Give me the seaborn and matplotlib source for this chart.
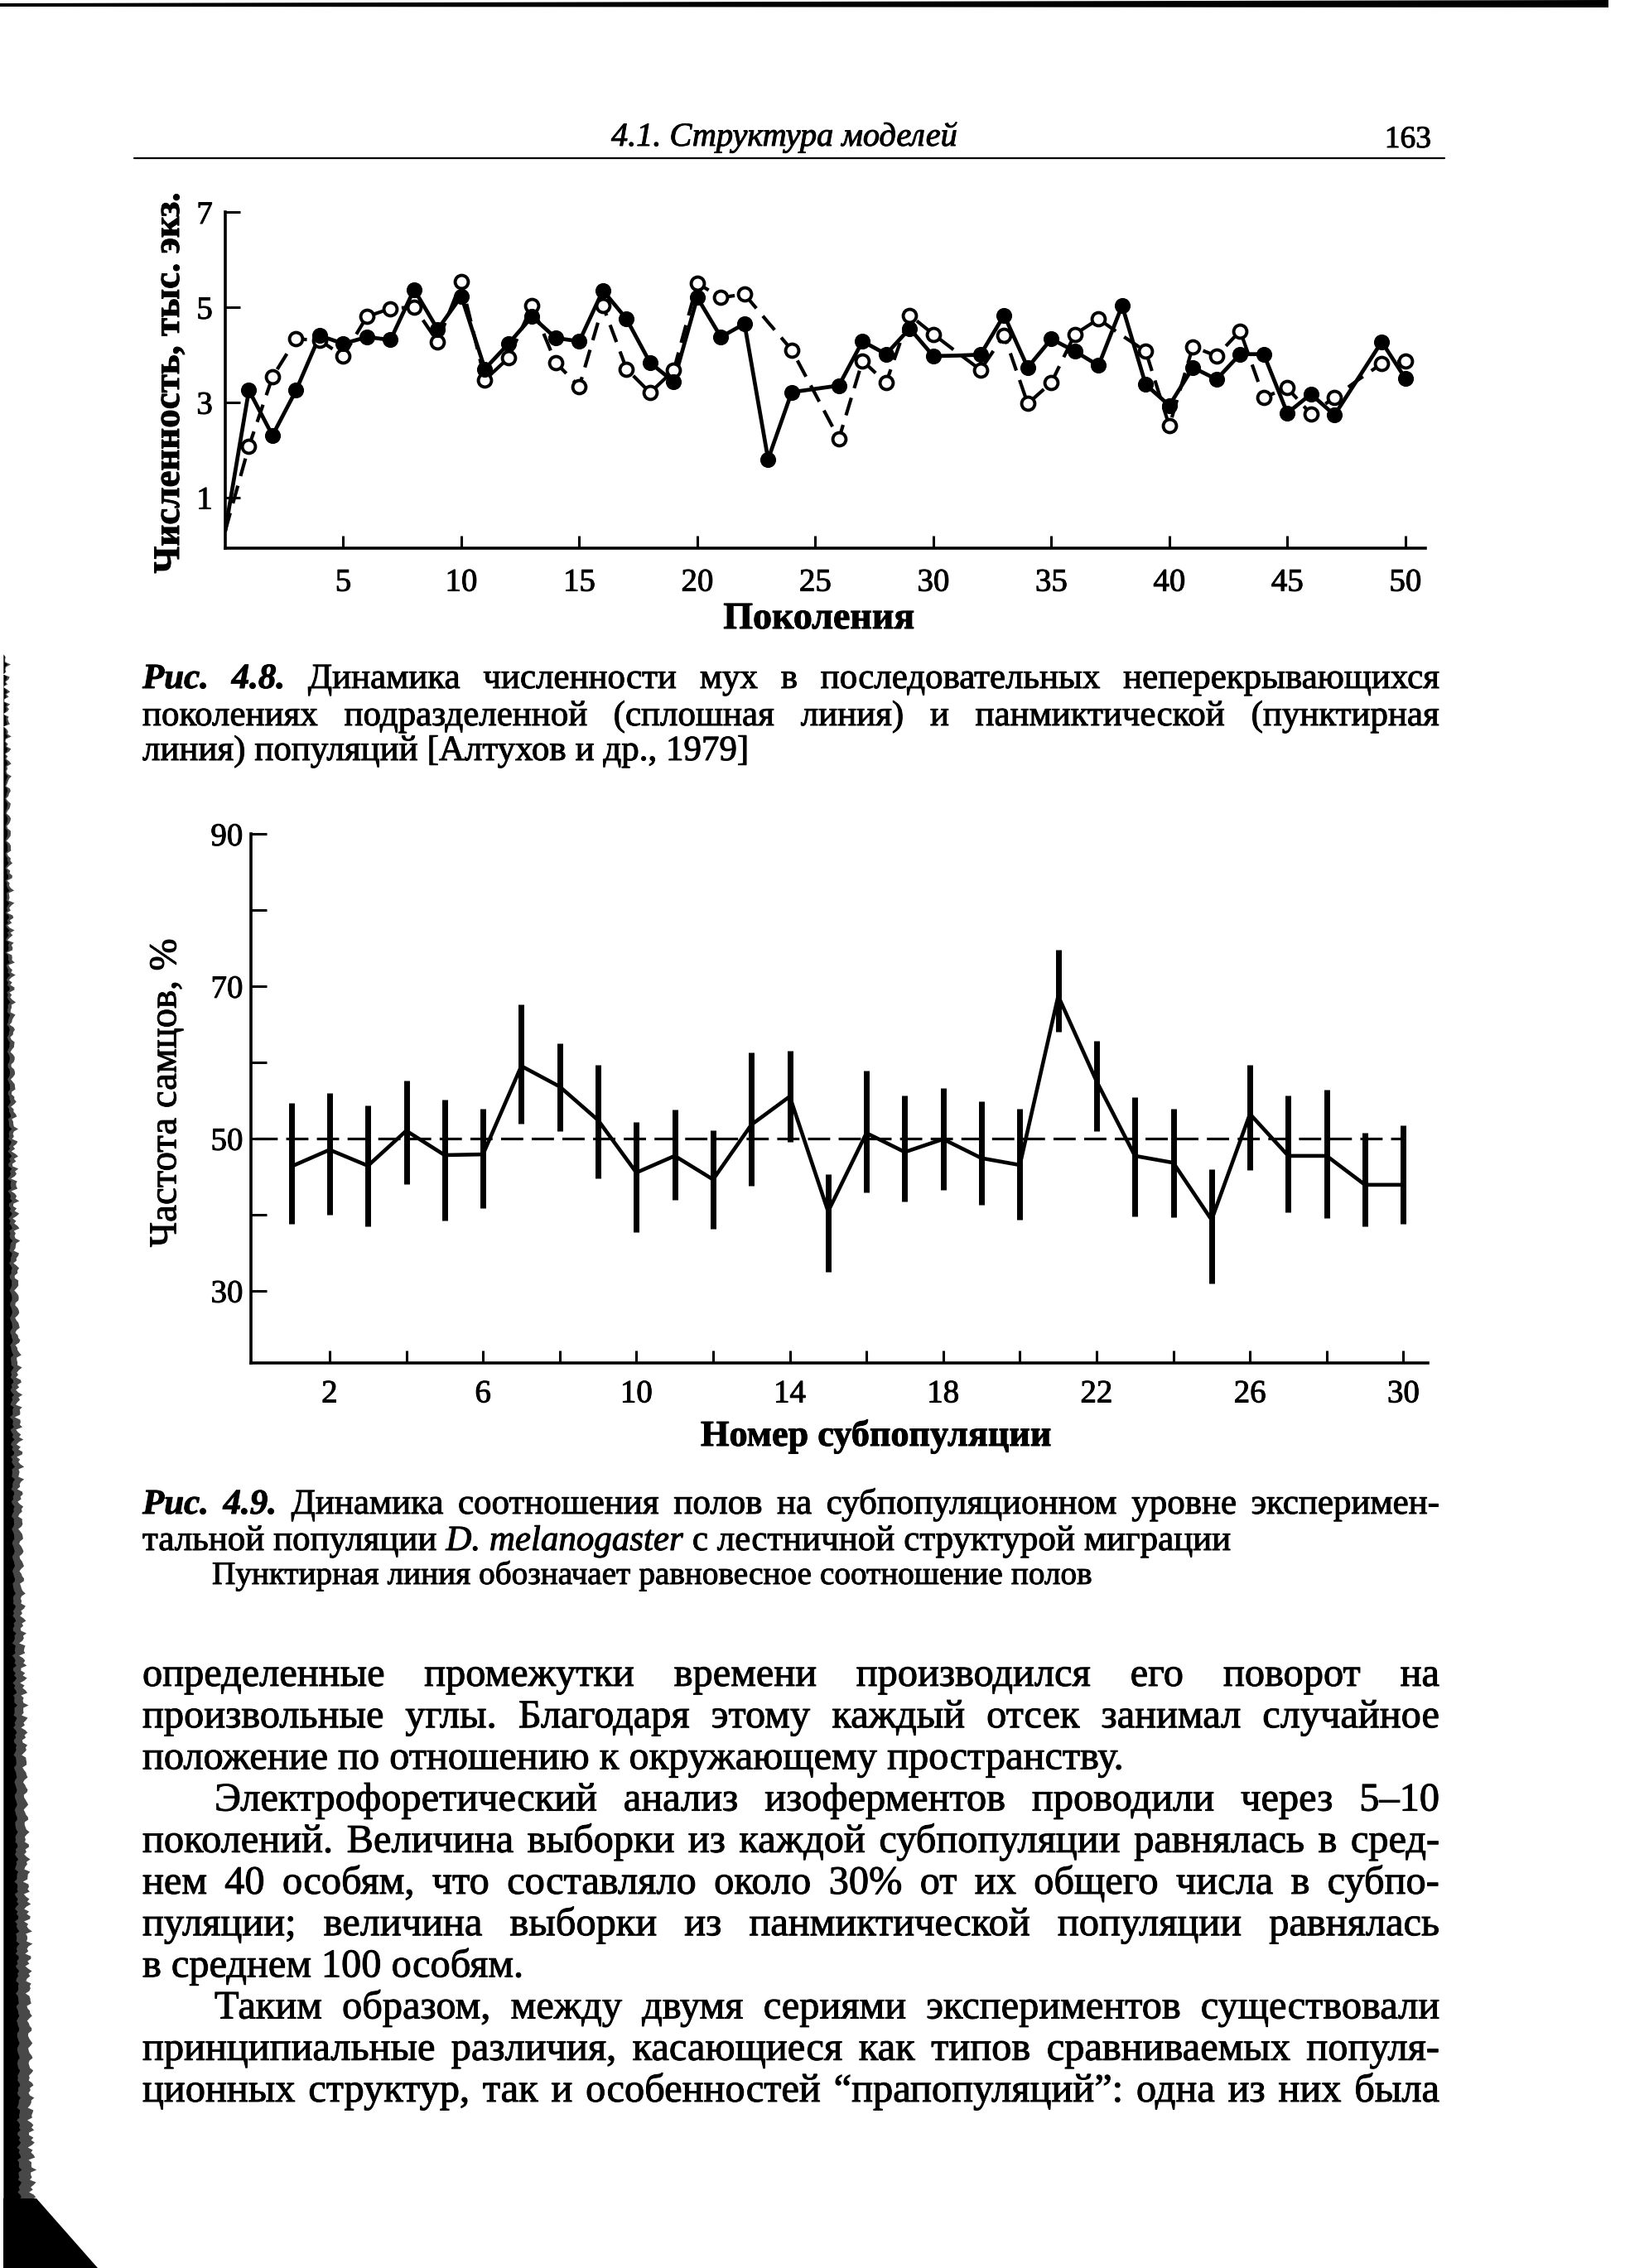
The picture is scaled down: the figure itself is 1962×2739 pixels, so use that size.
import numpy as np
import pandas as pd
import matplotlib
matplotlib.use("Agg")
import matplotlib.pyplot as plt
import matplotlib.patheffects as pe
from matplotlib.text import Text
import seaborn as sns

# Рис. 4.8: численность мух (тыс. экз.) по поколениям
generation = list(range(51))
subdivided = [0.3, 3.25, 2.3, 3.25, 4.4, 4.23, 4.37, 4.31, 5.37, 4.53,
              5.23, 3.7, 4.23, 4.8, 4.35, 4.28, 5.35, 4.75, 3.83, 3.43,
              5.2, 4.37, 4.65, 1.8, 3.21, 3.28, 3.35, 4.28, 4.01, 4.55,
              3.97, 3.98, 4.0, 4.83, 3.73, 4.33, 4.07, 3.77, 5.03, 3.37,
              2.93, 3.73, 3.48, 4.01, 4.01, 2.77, 3.17, 2.73, 3.5, 4.27, 3.5]
panmictic = [0.3, 2.07, 3.53, 4.33, 4.3, 3.97, 4.8, 4.97, 5.0, 4.27,
             5.53, 3.47, 3.93, 5.03, 3.83, 3.33, 5.03, 3.7, 3.2, 3.67,
             5.5, 5.2, 5.27, 4.68, 4.1, 3.17, 2.23, 3.87, 3.41, 4.83,
             4.43, 4.05, 3.68, 4.41, 2.97, 3.41, 4.43, 4.75, 4.4, 4.07,
             2.5, 4.17, 3.97, 4.5, 3.1, 3.3, 2.75, 3.1, 3.47, 3.81, 3.87]
# generations where no circle is drawn in the figure
sub_unmarked = [0, 25, 31, 48]
pan_unmarked = [0, 23, 25, 31, 38, 48]

# Рис. 4.9: частота самцов по субпопуляциям
subpop = list(range(1, 31))
male_mean = [46.3, 48.5, 46.4, 51.0, 47.8, 47.9, 59.5, 56.8, 52.4, 45.5,
             47.7, 44.6, 51.8, 55.5, 40.4, 50.7, 48.2, 49.9, 47.4, 46.5,
             68.7, 57.5, 47.7, 46.8, 39.3, 53.2, 47.7, 47.7, 43.9, 43.9]
male_high = [54.7, 56.0, 54.3, 57.6, 55.1, 53.9, 67.6, 62.5, 59.7, 52.1,
             53.8, 51.1, 61.3, 61.5, 45.3, 58.9, 55.6, 56.6, 54.9, 53.9,
             74.8, 62.8, 55.4, 53.9, 46.0, 59.7, 55.6, 56.4, 50.7, 51.7]
male_low = [38.8, 40.0, 38.5, 44.0, 39.2, 40.8, 51.9, 50.9, 44.8, 37.7,
            41.9, 38.1, 43.8, 49.5, 32.5, 42.9, 41.7, 43.2, 41.3, 39.3,
            64.0, 51.0, 39.7, 39.6, 30.9, 45.8, 40.3, 39.5, 38.5, 38.8]
equilibrium = 50

sns.set_style("ticks", {"axes.edgecolor": "black", "xtick.color": "black",
                        "ytick.color": "black", "text.color": "black",
                        "axes.labelcolor": "black"})
plt.rcParams["font.family"] = ["Liberation Serif", "DejaVu Serif"]

W, H = 1962, 2739
fig = plt.figure(figsize=(W / 100, H / 100), dpi=100)
page = fig.add_axes([0, 0, 1, 1])
page.set_xlim(0, W)
page.set_ylim(H, 0)
page.set_axis_off()
renderer = fig.canvas.get_renderer()


def box(x0, y0, x1, y1):
    # pixel box, origin top-left -> figure fraction
    return [x0 / W, 1 - y1 / H, (x1 - x0) / W, (y1 - y0) / H]


def width_of(s, size, **kw):
    t = page.text(0, 0, s, fontsize=size, **kw)
    w = t.get_window_extent(renderer=renderer).width
    t.remove()
    return w


def fit(s, target, **kw):
    return 30 * target / width_of(s, 30, **kw)


def words(s, **style):
    return [(w, style) for w in s.split()]


def set_line(parts, y, size, x0=172, x1=1738, justify=True):
    widths = [width_of(w, size, **st) for w, st in parts]
    if justify and len(parts) > 1:
        gap = (x1 - x0 - sum(widths)) / (len(parts) - 1)
    else:
        gap = width_of("н н", size) - width_of("нн", size)
    x = x0
    for (w, st), wd in zip(parts, widths):
        page.text(x, y, w, fontsize=size, va="baseline", ha="left", **st)
        x += wd + gap


# page furniture: scan border, running head
page.fill([0, 1942, 1942, 0], [4, 0, 9, 8], color="black", lw=0)
ys = np.arange(790, 2662, 3)
edge = (7 + (ys - 790) / 1870 * 32
        + 2.5 * np.sin(ys * 0.37) + 1.8 * np.sin(ys * 1.31) + 1.2 * np.sin(ys * 2.9))
page.fill_betweenx(ys, 4, edge, color="0.1", alpha=0.8, lw=0)
page.fill_betweenx(ys, 4, 4 + (edge - 4) * 0.55, color="black", lw=0)
page.fill([4, 44, 118, 4], [2655, 2655, 2739, 2739], color="black", lw=0)

page.text(738, 176, "4.1. Структура моделей", fontstyle="italic",
          fontsize=fit("4.1. Структура моделей", 418, fontstyle="italic"),
          va="baseline")
page.text(1728, 178, "163", ha="right", va="baseline", fontsize=27)
page.plot([162, 1744], [191, 191], color="black", lw=1.6)

# ---- Рис. 4.8 ----
ax1 = fig.add_axes(box(272, 256, 1721, 662))
ax1.set_facecolor("none")
df48 = pd.DataFrame({"gen": generation, "sub": subdivided, "pan": panmictic})
sns.lineplot(data=df48, x="gen", y="pan", ax=ax1, color="black", lw=3.0,
             linestyle=(0, (5.3, 2.9)), estimator=None, zorder=2)
sns.lineplot(data=df48, x="gen", y="sub", ax=ax1, color="black", lw=3.4,
             estimator=None, zorder=3)
sns.scatterplot(data=df48[~df48["gen"].isin(pan_unmarked)], x="gen", y="pan",
                ax=ax1, s=130, color="white", edgecolor="black", linewidth=2.8,
                zorder=4)
sns.scatterplot(data=df48[~df48["gen"].isin(sub_unmarked)], x="gen", y="sub",
                ax=ax1, s=190, color="black", edgecolor="black", linewidth=0,
                zorder=5)
ax1.set_xlim(0, 50.85)
ax1.set_ylim(-0.07, 7.0)
ax1.set_xticks(range(5, 51, 5))
ax1.set_yticks([1, 3, 5, 7])
ax1.tick_params(direction="in", width=2.2, labelsize=28, labelcolor="black")
ax1.tick_params(axis="x", length=11, pad=17)
ax1.tick_params(axis="y", length=13, pad=11)
sns.despine(ax=ax1)
for sp in ax1.spines.values():
    sp.set_linewidth(2.6)
ax1.set_xlabel("Поколения", fontweight="bold", va="baseline",
               fontsize=fit("Поколения", 231, fontweight="bold"))
ax1.xaxis.set_label_coords((989 - 272) / 1449, (662 - 759) / 406)
ax1.set_ylabel("Численность, тыс. экз.", fontweight="bold", va="center",
               fontsize=fit("Численность, тыс. экз.", 460, fontweight="bold"))
ax1.yaxis.set_label_coords((205 - 272) / 1449, (662 - 463) / 406)

# ---- Рис. 4.9 ----
ax2 = fig.add_axes(box(303, 1007, 1724, 1646))
ax2.set_facecolor("none")
sns.lineplot(x=subpop, y=male_mean, ax=ax2, color="black", lw=3.3, estimator=None)
ax2.vlines(subpop, male_low, male_high, color="black", lw=5.0)
ax2.hlines(equilibrium, 0.05, 30, color="black", lw=2.3,
           linestyles=[(0, (8.4, 3.2))])
ax2.set_xlim(-0.05, 30.64)
ax2.set_ylim(20.5, 90)
xt = list(range(2, 31, 2))
ax2.set_xticks(xt)
ax2.set_xticklabels([str(t) if (t - 2) % 4 == 0 else "" for t in xt])
yt = list(range(30, 91, 10))
ax2.set_yticks(yt)
ax2.set_yticklabels([str(t) if t % 20 == 10 else "" for t in yt])
ax2.tick_params(direction="in", width=2.2, labelsize=28, labelcolor="black")
ax2.tick_params(axis="x", length=11, pad=14)
ax2.tick_params(axis="y", length=13.5, pad=7)
sns.despine(ax=ax2)
for sp in ax2.spines.values():
    sp.set_linewidth(2.6)
ax2.set_xlabel("Номер субпопуляции", fontweight="bold", va="baseline",
               fontsize=fit("Номер субпопуляции", 423, fontweight="bold"))
ax2.xaxis.set_label_coords((1057 - 303) / 1421, (1646 - 1746) / 639)
ax2.set_ylabel("Частота самцов, %", va="center",
               fontsize=fit("Частота самцов, %", 373))
ax2.yaxis.set_label_coords((201 - 303) / 1421, (1646 - 1320) / 639)

# ---- captions and body text ----
bi = dict(fontweight="bold", fontstyle="italic")
cap_size = fit("линия) популяций [Алтухов и др., 1979]", 730)
set_line(words("Рис. 4.8.", **bi)
         + words("Динамика численности мух в последовательных неперекрывающихся"),
         831, cap_size)
set_line(words("поколениях подразделенной (сплошная линия) и панмиктической (пунктирная"),
         876, cap_size)
set_line(words("линия) популяций [Алтухов и др., 1979]"), 918, cap_size, justify=False)

set_line(words("Рис. 4.9.", **bi)
         + words("Динамика соотношения полов на субпопуляционном уровне эксперимен-"),
         1828, cap_size)
set_line(words("тальной популяции") + words("D. melanogaster", fontstyle="italic")
         + words("с лестничной структурой миграции"), 1872, cap_size, justify=False)
note = "Пунктирная линия обозначает равновесное соотношение полов"
set_line(words(note), 1913, fit(note, 1061), x0=256, justify=False)

body = [
    ("определенные промежутки времени производился его поворот на", True, False),
    ("произвольные углы. Благодаря этому каждый отсек занимал случайное", True, False),
    ("положение по отношению к окружающему пространству.", False, False),
    ("Электрофоретический анализ изоферментов проводили через 5–10", True, True),
    ("поколений. Величина выборки из каждой субпопуляции равнялась в сред-", True, False),
    ("нем 40 особям, что составляло около 30% от их общего числа в субпо-", True, False),
    ("пуляции; величина выборки из панмиктической популяции равнялась", True, False),
    ("в среднем 100 особям.", False, False),
    ("Таким образом, между двумя сериями экспериментов существовали", True, True),
    ("принципиальные различия, касающиеся как типов сравниваемых популя-", True, False),
    ("ционных структур, так и особенностей “прапопуляций”: одна из них была", True, False),
]
body_size = fit("положение по отношению к окружающему пространству.", 1184)
for i, (line, just, indent) in enumerate(body):
    set_line(words(line), 2036 + 50.2 * i, body_size,
             x0=259 if indent else 172, justify=just)

# slightly heavier strokes, like the printed scan
for t in fig.findobj(Text):
    t.set_path_effects([pe.withStroke(linewidth=0.7, foreground="black")])

fig.savefig("out.png", dpi=100)
